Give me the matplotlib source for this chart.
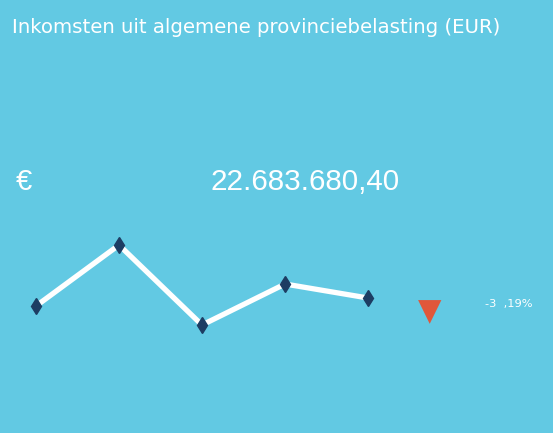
import matplotlib.pyplot as plt

# data
periods = [1, 2, 3, 4, 5]
values = [22256000, 25514000, 21242000, 23431000, 22683680.40]
title = 'Inkomsten uit algemene provinciebelasting (EUR)'
value_label = '22.683.680,40'
change_label = '-3  ,19%'

bg = '#62c9e3'

fig = plt.figure(figsize=(5.53, 4.33), dpi=100, facecolor=bg)
W, H = 553, 433

fig.text(12 / W, 1 - 33 / H, title, color='white', fontsize=14.2,
         family='DejaVu Sans', ha='left', va='baseline')
fig.text(16 / W, 1 - 190 / H, '€', color='white', fontsize=21,
         family='Liberation Sans', ha='left', va='baseline')
fig.text(305 / W, 1 - 190 / H, value_label, color='white', fontsize=21.3,
         family='Liberation Sans', ha='center', va='baseline')

# sparkline
ax = fig.add_axes([36 / W, (H - 325) / H, (368 - 36) / W, 80 / H])
ax.set_facecolor('none')
ax.plot(periods, values, color='white', lw=3.8, solid_capstyle='butt',
        marker='d', markersize=8.5, markerfacecolor='#1d3d63',
        markeredgecolor='#1d3d63', clip_on=False)
ax.set_xlim(periods[0], periods[-1])
ax.set_ylim(min(values), max(values))
ax.axis('off')

# change indicator
fig.text(430 / W, 1 - 312 / H, '▼', color='#e0573a', fontsize=22,
         family='DejaVu Sans', ha='center', va='center')
fig.text(485 / W, 1 - 307 / H, change_label, color='white', fontsize=8.2,
         family='DejaVu Sans', ha='left', va='baseline')

fig.savefig('out.png', dpi=100, facecolor=bg)
